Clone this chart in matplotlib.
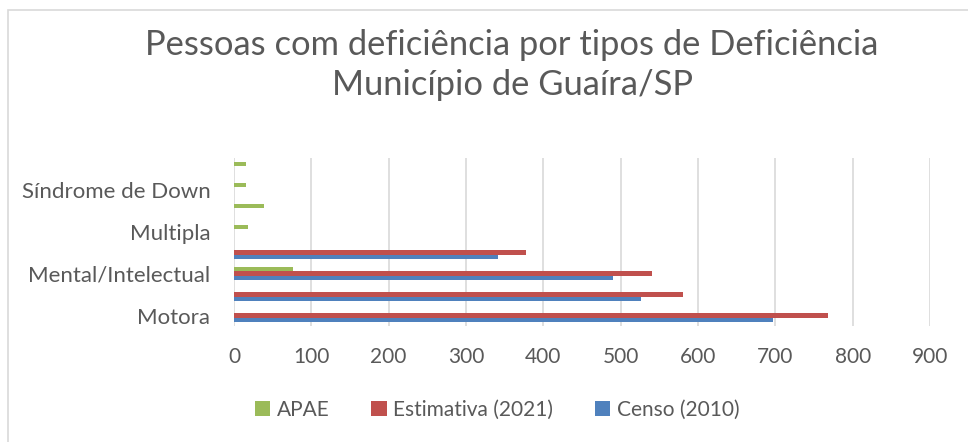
import numpy as np
import matplotlib.pyplot as plt
from matplotlib.patches import Rectangle

# categories, bottom to top (only every other one gets a label in the original)
categorias = ["Motora", "Visual", "Mental/Intelectual", "Auditiva",
              "Multipla", "Autismo", "Síndrome de Down", "Outras"]
rotulos = ["Motora", "", "Mental/Intelectual", "", "Multipla", "", "Síndrome de Down", ""]

censo_2010 = [697, 526, 490, 341, 0, 0, 0, 0]
estimativa_2021 = [768, 580, 540, 377, 0, 0, 0, 0]
apae = [0, 0, 76, 0, 18, 39, 15, 15]

azul = "#4f81bd"
vermelho = "#c0504d"
verde = "#9bbb59"
cinza_txt = "#595959"

plt.rcParams['font.family'] = ['Lato', 'DejaVu Sans']

fig = plt.figure(figsize=(9.68, 4.42), dpi=100)
ax = fig.add_axes([234 / 968, 1 - 326 / 442, (930 - 234) / 968, (326 - 158) / 442])

y = np.arange(len(categorias))
h = 0.21
ax.barh(y - h, censo_2010, height=h, color=azul, label="Censo (2010)", zorder=3)
ax.barh(y, estimativa_2021, height=h, color=vermelho, label="Estimativa (2021)", zorder=3)
ax.barh(y + h, apae, height=h, color=verde, label="APAE", zorder=3)

ax.set_xlim(0, 900)
ax.set_ylim(-0.5, 7.5)
ax.set_xticks(range(0, 901, 100))
ax.set_yticks(y)
ax.set_yticklabels(rotulos)
ax.grid(axis="x", color="#d9d9d9", linewidth=1.2, zorder=0)
ax.set_axisbelow(True)
for s in ax.spines.values():
    s.set_visible(False)
ax.tick_params(length=0, labelsize=15, colors=cinza_txt)
ax.tick_params(axis="y", labelsize=16, pad=17)
ax.tick_params(axis="x", pad=15)

fig.text(512 / 968, 1 - 45 / 442, "Pessoas com deficiência por tipos de Deficiência",
         ha="center", va="center", fontsize=24.8, color=cinza_txt)
fig.text(512 / 968, 1 - 85 / 442, "Município de Guaíra/SP",
         ha="center", va="center", fontsize=24.8, color=cinza_txt)

handles, labels = ax.get_legend_handles_labels()
leg = fig.legend(handles[::-1], labels[::-1], loc="center", bbox_to_anchor=(497 / 968, 1 - 410 / 442),
                 ncol=3, frameon=False, fontsize=15, handlelength=0.75, handleheight=0.75,
                 handletextpad=0.3, columnspacing=2.0)
for t in leg.get_texts():
    t.set_color(cinza_txt)

fig.patches.append(Rectangle((8 / 968, -0.1), 1.2, 1 - 10 / 442 + 0.1, transform=fig.transFigure,
                             fill=False, edgecolor="#d9d9d9", linewidth=1.2))

fig.savefig("out.png", dpi=100)
